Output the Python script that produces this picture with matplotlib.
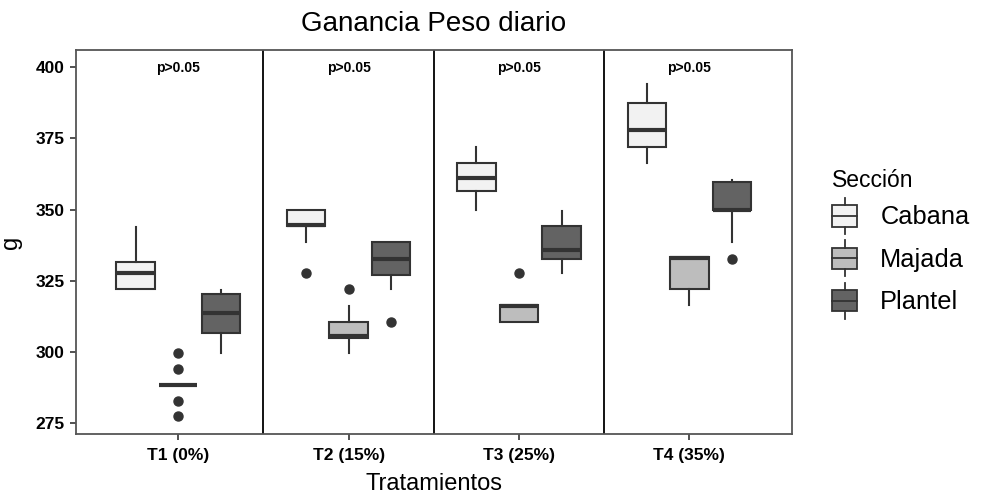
import matplotlib
matplotlib.use("Agg")
import matplotlib.pyplot as plt
from matplotlib.legend_handler import HandlerBase
from matplotlib.patches import Rectangle, Patch
from matplotlib.lines import Line2D

plt.rcParams['font.family'] = ['Liberation Sans', 'DejaVu Sans']

tratamientos = ['T1 (0%)', 'T2 (15%)', 'T3 (25%)', 'T4 (35%)']
secciones = ['Cabana', 'Majada', 'Plantel']
colores = ['#f2f2f2', '#bdbdbd', '#636363']

# box stats per seccion, one value per tratamiento
cab_whislo = [322, 338.7, 349.8, 366.5]
cab_q1 = [322, 344.3, 356.5, 372]
cab_med = [327.6, 344.6, 361.2, 377.8]
cab_q3 = [331.7, 349.8, 366.5, 387.5]
cab_whishi = [344, 349.8, 372, 394.2]
cab_fliers = [[], [327.6], [], []]

maj_whislo = [288.5, 299.8, 310.6, 316.5]
maj_q1 = [288.5, 304.8, 310.6, 322]
maj_med = [288.5, 305.6, 316.3, 333]
maj_q3 = [288.5, 310.6, 316.5, 333.2]
maj_whishi = [288.5, 316.1, 316.5, 333.2]
maj_fliers = [[299.8, 294, 282.8, 277.5], [322], [327.6], []]

pla_whislo = [299.8, 322, 327.6, 338.7]
pla_q1 = [306.6, 327.2, 332.8, 349.7]
pla_med = [313.6, 332.8, 335.8, 350]
pla_q3 = [320.5, 338.5, 344.2, 359.5]
pla_whishi = [321.7, 338.5, 349.4, 360.5]
pla_fliers = [[], [310.6], [], [332.8]]

datos = [
    (cab_whislo, cab_q1, cab_med, cab_q3, cab_whishi, cab_fliers),
    (maj_whislo, maj_q1, maj_med, maj_q3, maj_whishi, maj_fliers),
    (pla_whislo, pla_q1, pla_med, pla_q3, pla_whishi, pla_fliers),
]

fig = plt.figure(figsize=(9.87, 4.97), dpi=100)
ax = fig.add_axes([0.077, 0.127, 0.725, 0.772])

edge = '#333333'
for k, (wlo, q1, med, q3, whi, fl) in enumerate(datos):
    stats = []
    for i in range(4):
        stats.append(dict(whislo=wlo[i], q1=q1[i], med=med[i], q3=q3[i],
                          whishi=whi[i], fliers=fl[i]))
    pos = [i + 1 + (k - 1) * 0.25 for i in range(4)]
    ax.bxp(stats, positions=pos, widths=0.225, patch_artist=True, showcaps=False,
           boxprops=dict(facecolor=colores[k], edgecolor=edge, linewidth=1.5),
           medianprops=dict(color=edge, linewidth=3),
           whiskerprops=dict(color=edge, linewidth=1.5),
           flierprops=dict(marker='o', markerfacecolor=edge, markeredgecolor=edge,
                           markersize=6.5))

for xs in [1.5, 2.5, 3.5]:
    ax.axvline(xs, color='black', linewidth=1.3)

for i in range(4):
    ax.text(i + 1, 399.6, 'p>0.05', ha='center', va='center', fontsize=10,
            fontweight='bold')

ax.set_xlim(0.4, 4.6)
ax.set_ylim(271.3, 405.9)
ax.set_xticks([1, 2, 3, 4])
ax.set_xticklabels(tratamientos, fontsize=12.5, fontweight='bold')
ax.set_yticks([275, 300, 325, 350, 375, 400])
ax.set_yticklabels(['275', '300', '325', '350', '375', '400'], fontsize=12.5,
                   fontweight='bold')
ax.tick_params(axis='both', color='#333333', length=4, width=1.2, pad=4)
ax.tick_params(axis='x', pad=6.5)
for s in ax.spines.values():
    s.set_color('#555555')
    s.set_linewidth(1.3)
ax.set_xlabel('Tratamientos', fontsize=17, labelpad=7)
ax.set_ylabel('g', fontsize=17, labelpad=10)
ax.set_title('Ganancia Peso diario', fontsize=20, pad=14)


class BoxHandler(HandlerBase):
    def create_artists(self, legend, orig_handle, xdescent, ydescent, width,
                       height, fontsize, trans):
        x0, y0 = -xdescent, -ydescent
        fc = orig_handle.get_facecolor()
        r = Rectangle((x0, y0 + height * 0.2), width, height * 0.6, facecolor=fc,
                      edgecolor=edge, linewidth=1.3, transform=trans)
        m = Line2D([x0, x0 + width], [y0 + height * 0.5] * 2, color=edge,
                   linewidth=1.3, transform=trans)
        w1 = Line2D([x0 + width / 2] * 2, [y0 + height * 0.8, y0 + height],
                    color=edge, linewidth=1.3, transform=trans)
        w2 = Line2D([x0 + width / 2] * 2, [y0, y0 + height * 0.2], color=edge,
                    linewidth=1.3, transform=trans)
        return [r, m, w1, w2]


handles = [Patch(facecolor=c) for c in colores]
leg = fig.legend(handles, secciones, loc='upper left',
                 bbox_to_anchor=(0.843, 0.66), frameon=False, fontsize=18.3,
                 title='Sección', title_fontsize=16.5, alignment='left',
                 handler_map={Patch: BoxHandler()}, handlelength=1.0,
                 handleheight=1.81, handletextpad=0.9, labelspacing=0.24,
                 borderaxespad=0, borderpad=0)

fig.savefig('out.png', dpi=100)
